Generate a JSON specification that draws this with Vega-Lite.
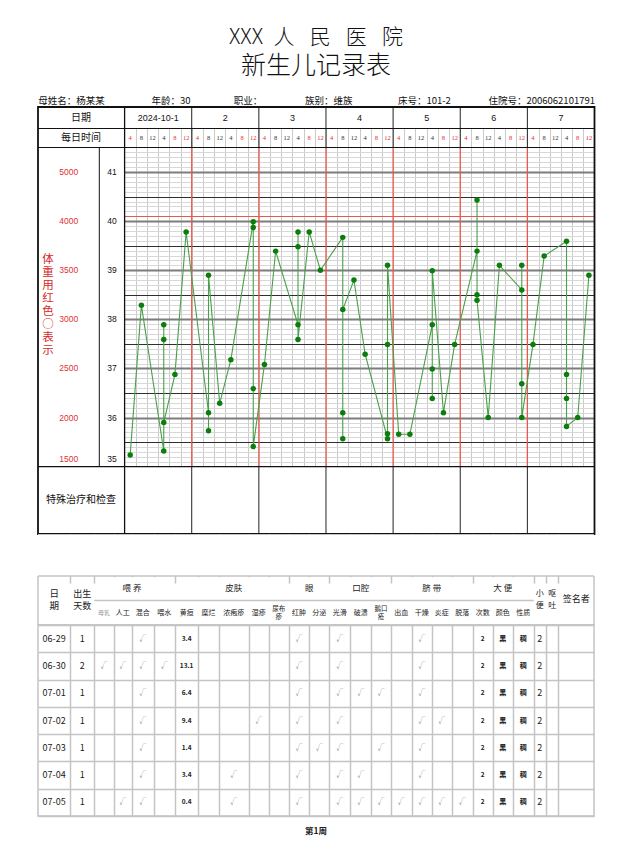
{
"$schema": "https://vega.github.io/schema/vega-lite/v6.json",
"background": "white",
"padding": {"left": 37, "top": 0, "right": 0, "bottom": 0},
"spacing": 0,
"bounds": "flush",
"config": {"view": {"stroke": null}, "text": {"font": "Noto Sans CJK SC"}, "axis": {"minExtent": 0}, "axisX": {"minExtent": 0}, "axisY": {"minExtent": 0}},
"datasets": {
"info": [{"i":0,"item":"母姓名：杨某某"},{"i":1,"item":"年龄：30"},{"i":2,"item":"职业："},{"i":3,"item":"族别：维族"},{"i":4,"item":"床号：101-2"},{"i":5,"item":"住院号：2006062101791"}],
"temps": [{"seq":1,"slot":0,"temp":35.24},{"seq":2,"slot":1,"temp":38.29},{"seq":3,"slot":3,"temp":35.32},{"seq":4,"slot":3,"temp":37.89},{"seq":5,"slot":3,"temp":37.59},{"seq":6,"slot":3,"temp":35.9},{"seq":7,"slot":4,"temp":36.88},{"seq":8,"slot":5,"temp":39.78},{"seq":9,"slot":7,"temp":36.1},{"seq":10,"slot":7,"temp":35.73},{"seq":11,"slot":7,"temp":38.9},{"seq":12,"slot":8,"temp":36.29},{"seq":13,"slot":9,"temp":37.18},{"seq":14,"slot":11,"temp":39.99},{"seq":15,"slot":11,"temp":39.87},{"seq":16,"slot":11,"temp":36.59},{"seq":17,"slot":11,"temp":35.41},{"seq":18,"slot":12,"temp":37.08},{"seq":19,"slot":13,"temp":39.39},{"seq":20,"slot":15,"temp":37.89},{"seq":21,"slot":15,"temp":39.78},{"seq":22,"slot":15,"temp":39.48},{"seq":23,"slot":15,"temp":37.59},{"seq":24,"slot":16,"temp":39.78},{"seq":25,"slot":17,"temp":39.0},{"seq":26,"slot":19,"temp":39.67},{"seq":27,"slot":19,"temp":36.1},{"seq":28,"slot":19,"temp":35.57},{"seq":29,"slot":19,"temp":38.2},{"seq":30,"slot":20,"temp":38.8},{"seq":31,"slot":21,"temp":37.29},{"seq":32,"slot":23,"temp":35.57},{"seq":33,"slot":23,"temp":35.67},{"seq":34,"slot":23,"temp":37.49},{"seq":35,"slot":23,"temp":39.1},{"seq":36,"slot":24,"temp":35.66},{"seq":37,"slot":25,"temp":35.66},{"seq":38,"slot":27,"temp":37.89},{"seq":39,"slot":27,"temp":36.99},{"seq":40,"slot":27,"temp":36.39},{"seq":41,"slot":27,"temp":38.99},{"seq":42,"slot":28,"temp":36.1},{"seq":43,"slot":29,"temp":37.49},{"seq":44,"slot":31,"temp":39.39},{"seq":45,"slot":31,"temp":40.43},{"seq":46,"slot":31,"temp":38.5},{"seq":47,"slot":31,"temp":38.39},{"seq":48,"slot":32,"temp":36.0},{"seq":49,"slot":33,"temp":39.1},{"seq":50,"slot":35,"temp":38.6},{"seq":51,"slot":35,"temp":39.1},{"seq":52,"slot":35,"temp":36.69},{"seq":53,"slot":35,"temp":36.0},{"seq":54,"slot":36,"temp":37.49},{"seq":55,"slot":37,"temp":39.29},{"seq":56,"slot":39,"temp":39.59},{"seq":57,"slot":39,"temp":36.88},{"seq":58,"slot":39,"temp":36.39},{"seq":59,"slot":39,"temp":35.82},{"seq":60,"slot":40,"temp":36.0},{"seq":61,"slot":41,"temp":38.9}],
"wscale": [{"t":41,"w":5000},{"t":40,"w":4000},{"t":39,"w":3500},{"t":38,"w":3000},{"t":37,"w":2500},{"t":36,"w":2000},{"t":35,"w":1500}],
"days": [{"day":"2024-10-1","first":0},{"day":"2","first":6},{"day":"3","first":12},{"day":"4","first":18},{"day":"5","first":24},{"day":"6","first":30},{"day":"7","first":36}],
"slots": [{"slot":0,"h":"4"},{"slot":1,"h":"8"},{"slot":2,"h":"12"},{"slot":3,"h":"4"},{"slot":4,"h":"8"},{"slot":5,"h":"12"},{"slot":6,"h":"4"},{"slot":7,"h":"8"},{"slot":8,"h":"12"},{"slot":9,"h":"4"},{"slot":10,"h":"8"},{"slot":11,"h":"12"},{"slot":12,"h":"4"},{"slot":13,"h":"8"},{"slot":14,"h":"12"},{"slot":15,"h":"4"},{"slot":16,"h":"8"},{"slot":17,"h":"12"},{"slot":18,"h":"4"},{"slot":19,"h":"8"},{"slot":20,"h":"12"},{"slot":21,"h":"4"},{"slot":22,"h":"8"},{"slot":23,"h":"12"},{"slot":24,"h":"4"},{"slot":25,"h":"8"},{"slot":26,"h":"12"},{"slot":27,"h":"4"},{"slot":28,"h":"8"},{"slot":29,"h":"12"},{"slot":30,"h":"4"},{"slot":31,"h":"8"},{"slot":32,"h":"12"},{"slot":33,"h":"4"},{"slot":34,"h":"8"},{"slot":35,"h":"12"},{"slot":36,"h":"4"},{"slot":37,"h":"8"},{"slot":38,"h":"12"},{"slot":39,"h":"4"},{"slot":40,"h":"8"},{"slot":41,"h":"12"}],
"cols": [{"k":"日期","lab":"日\n期","c":0,"g":""},{"k":"出生天数","lab":"出生\n天数","c":1,"g":""},{"k":"母乳","lab":"母乳","c":2,"g":"喂 养"},{"k":"人工","lab":"人工","c":3,"g":"喂 养"},{"k":"混合","lab":"混合","c":4,"g":"喂 养"},{"k":"喂水","lab":"喂水","c":5,"g":"喂 养"},{"k":"黄疸","lab":"黄疸","c":6,"g":"皮肤"},{"k":"糜烂","lab":"糜烂","c":7,"g":"皮肤"},{"k":"浓疱疹","lab":"浓疱疹","c":8,"g":"皮肤"},{"k":"湿疹","lab":"湿疹","c":9,"g":"皮肤"},{"k":"尿布疹","lab":"尿布\n疹","c":10,"g":"皮肤"},{"k":"红肿","lab":"红肿","c":11,"g":"眼"},{"k":"分泌","lab":"分泌","c":12,"g":"眼"},{"k":"光滑","lab":"光滑","c":13,"g":"口腔"},{"k":"破溃","lab":"破溃","c":14,"g":"口腔"},{"k":"鹅口疮","lab":"鹅口\n疮","c":15,"g":"口腔"},{"k":"出血","lab":"出血","c":16,"g":"脐 带"},{"k":"干燥","lab":"干燥","c":17,"g":"脐 带"},{"k":"炎症","lab":"炎症","c":18,"g":"脐 带"},{"k":"脱落","lab":"脱落","c":19,"g":"脐 带"},{"k":"次数","lab":"次数","c":20,"g":"大 便"},{"k":"颜色","lab":"颜色","c":21,"g":"大 便"},{"k":"性质","lab":"性质","c":22,"g":"大 便"},{"k":"小便","lab":"小\n便","c":23,"g":""},{"k":"呕吐","lab":"呕\n吐","c":24,"g":""},{"k":"签名者","lab":"签名者","c":25,"g":""}],
"records": [
{"日期":"06-29","出生天数":"1","混合":"√","黄疸":"3.4","红肿":"√","光滑":"√","干燥":"√","次数":"2","颜色":"黑","性质":"稠","小便":"2"},
{"日期":"06-30","出生天数":"2","母乳":"√","人工":"√","混合":"√","喂水":"√","黄疸":"13.1","红肿":"√","光滑":"√","干燥":"√","次数":"2","颜色":"黑","性质":"稠","小便":"2"},
{"日期":"07-01","出生天数":"1","混合":"√","黄疸":"6.4","红肿":"√","光滑":"√","破溃":"√","鹅口疮":"√","干燥":"√","次数":"2","颜色":"黑","性质":"稠","小便":"2"},
{"日期":"07-02","出生天数":"1","混合":"√","黄疸":"9.4","湿疹":"√","红肿":"√","光滑":"√","干燥":"√","炎症":"√","次数":"2","颜色":"黑","性质":"稠","小便":"2"},
{"日期":"07-03","出生天数":"1","混合":"√","黄疸":"1.4","红肿":"√","分泌":"√","光滑":"√","鹅口疮":"√","干燥":"√","次数":"2","颜色":"黑","性质":"稠","小便":"2"},
{"日期":"07-04","出生天数":"1","混合":"√","黄疸":"3.4","浓疱疹":"√","红肿":"√","光滑":"√","破溃":"√","干燥":"√","次数":"2","颜色":"黑","性质":"稠","小便":"2"},
{"日期":"07-05","出生天数":"1","人工":"√","混合":"√","黄疸":"0.4","浓疱疹":"√","红肿":"√","光滑":"√","破溃":"√","鹅口疮":"√","出血":"√","干燥":"√","炎症":"√","脱落":"√","次数":"2","颜色":"黑","性质":"稠","小便":"2"}
]
},
"vconcat": [
{
"width": 556, "height": 107,
"layer": [
{"data": {"values": [{}]}, "mark": {"type": "text", "fontSize": 21, "fontWeight": 300, "baseline": "middle", "color": "#111"},
 "encoding": {"text": {"value": "XXX\u2002人\u2002\u00a0民\u2002\u00a0医\u2002\u00a0院"},
  "y": {"datum": 1, "type": "quantitative", "scale": {"domain": [1, 2, 3], "range": [38.3, 65.5, 100.7], "zero": false, "nice": false}, "axis": null}}},
{"data": {"values": [{}]}, "mark": {"type": "text", "fontSize": 25, "fontWeight": 300, "baseline": "middle", "color": "#111"},
 "encoding": {"text": {"value": "新生儿记录表"}, "y": {"datum": 2, "type": "quantitative", "axis": null}}},
{"data": {"name": "info"}, "transform": [{"filter": "datum.i < 5"}], "mark": {"type": "text", "align": "left", "baseline": "middle", "fontSize": 9.5, "color": "#111"},
 "encoding": {"text": {"field": "item"},
  "x": {"field": "i", "type": "quantitative", "scale": {"domain": [0, 1, 2, 3, 4, 5], "range": [0.3, 113.6, 195.8, 267, 360, 557], "zero": false, "nice": false}, "axis": null},
  "y": {"datum": 3, "type": "quantitative", "axis": null}}},
{"data": {"name": "info"}, "transform": [{"filter": "datum.i == 5"}], "mark": {"type": "text", "align": "right", "baseline": "middle", "fontSize": 9.5, "color": "#111"},
 "encoding": {"text": {"field": "item"},
  "x": {"field": "i", "type": "quantitative", "axis": null},
  "y": {"datum": 3, "type": "quantitative", "axis": null}}}
]
},
{
"width": 556, "height": 427,
"layer": [
{"data": {"values": [{}]}, "mark": {"type": "rect", "fill": "white"},
 "encoding": {
  "x": {"datum": -3.5, "type": "quantitative", "title": null, "scale": {"domain": [-3.5, -1.5, -0.5, 41.5], "range": [0, 61.3, 86.6, 556.5], "zero": false, "nice": false},
   "axis": {"values": [0.5,1.5,2.5,3.5,4.5,5.5,6.5,7.5,8.5,9.5,10.5,11.5,12.5,13.5,14.5,15.5,16.5,17.5,18.5,19.5,20.5,21.5,22.5,23.5,24.5,25.5,26.5,27.5,28.5,29.5,30.5,31.5,32.5,33.5,34.5,35.5,36.5,37.5,38.5,39.5,40.5], "tickCount": 200, "minExtent": 0, "grid": true, "gridColor": "#cbcbcb", "gridWidth": 1, "labels": false, "ticks": false, "domain": false, "title": null}},
  "x2": {"datum": -0.5},
  "y": {"datum": 35, "type": "quantitative", "title": null, "scale": {"domain": [34, 35, 41.5, 42, 42.5], "range": [427, 359.7, 40.5, 21.5, 0], "zero": false, "nice": false},
   "axis": {"values": [35.1,35.2,35.3,35.4,35.5,35.6,35.7,35.8,35.9,36,36.1,36.2,36.3,36.4,36.5,36.6,36.7,36.8,36.9,37,37.1,37.2,37.3,37.4,37.5,37.6,37.7,37.8,37.9,38,38.1,38.2,38.3,38.4,38.5,38.6,38.7,38.8,38.9,39,39.1,39.2,39.3,39.4,39.5,39.6,39.7,39.8,39.9,40,40.1,40.2,40.3,40.4,40.5,40.6,40.7,40.8,40.9,41,41.1,41.2,41.3,41.4],
    "tickCount": 200, "minExtent": 0, "grid": true,
    "gridColor": {"condition": [{"test": "abs(datum.value - 40.1) < 0.001", "value": "#e8584f"}, {"test": "abs(datum.value - round(datum.value)) < 0.01", "value": "#7d7d7d"}, {"test": "abs(datum.value - round(datum.value)) > 0.49", "value": "#2e2e2e"}], "value": "#d8d8d8"},
    "gridWidth": {"condition": [{"test": "abs(datum.value - 40.1) < 0.001", "value": 1.2}, {"test": "abs(datum.value - round(datum.value)) < 0.01", "value": 2}, {"test": "abs(datum.value - round(datum.value)) > 0.49", "value": 1.2}], "value": 1},
    "labels": false, "ticks": false, "domain": false, "title": null}},
  "y2": {"datum": 41.5}}},
{"data": {"values": [{}]}, "mark": {"type": "rect", "fill": "white"},
 "encoding": {"x": {"datum": -0.5, "type": "quantitative", "title": null}, "x2": {"datum": 41.5}, "y": {"datum": 42, "type": "quantitative", "title": null}, "y2": {"datum": 42.5}}},
{"data": {"values": [{}]}, "mark": {"type": "rect", "fill": "white"},
 "encoding": {"x": {"datum": -0.5, "type": "quantitative", "title": null}, "x2": {"datum": 41.5}, "y": {"datum": 34, "type": "quantitative", "title": null}, "y2": {"datum": 35}}},
{"data": {"name": "days"}, "transform": [{"filter": "datum.first > 0"}], "mark": {"type": "rule", "color": "#e8584f", "strokeWidth": 1.3, "xOffset": -5.6},
 "encoding": {"x": {"field": "first", "type": "quantitative", "title": null}, "y": {"datum": 35, "type": "quantitative", "title": null}, "y2": {"datum": 41.5}}},
{"data": {"name": "days"}, "transform": [{"filter": "datum.first > 0"}], "mark": {"type": "rule", "color": "#222", "strokeWidth": 1, "xOffset": -5.6},
 "encoding": {"x": {"field": "first", "type": "quantitative", "title": null}, "y": {"datum": 41.5, "type": "quantitative", "title": null}, "y2": {"datum": 42.5}}},
{"data": {"name": "days"}, "transform": [{"filter": "datum.first > 0"}], "mark": {"type": "rule", "color": "#222", "strokeWidth": 1, "xOffset": -5.6},
 "encoding": {"x": {"field": "first", "type": "quantitative", "title": null}, "y": {"datum": 34, "type": "quantitative", "title": null}, "y2": {"datum": 35}}},
{"data": {"values": [{}]}, "mark": {"type": "rule", "color": "#111", "strokeWidth": 1},
 "encoding": {"x": {"datum": -3.5, "type": "quantitative", "title": null}, "x2": {"datum": 41.5}, "y": {"datum": 42, "type": "quantitative", "title": null}}},
{"data": {"values": [{}]}, "mark": {"type": "rule", "color": "#111", "strokeWidth": 1},
 "encoding": {"x": {"datum": -3.5, "type": "quantitative", "title": null}, "x2": {"datum": 41.5}, "y": {"datum": 41.5, "type": "quantitative", "title": null}}},
{"data": {"values": [{}]}, "mark": {"type": "rule", "color": "#111", "strokeWidth": 1.3},
 "encoding": {"x": {"datum": -3.5, "type": "quantitative", "title": null}, "x2": {"datum": 41.5}, "y": {"datum": 35, "type": "quantitative", "title": null}}},
{"data": {"values": [{}]}, "mark": {"type": "rule", "color": "#111", "strokeWidth": 1.3},
 "encoding": {"x": {"datum": -0.5, "type": "quantitative", "title": null}, "y": {"datum": 34, "type": "quantitative", "title": null}, "y2": {"datum": 42.5}}},
{"data": {"values": [{}]}, "mark": {"type": "rule", "color": "#111", "strokeWidth": 1},
 "encoding": {"x": {"datum": -1.5, "type": "quantitative", "title": null}, "y": {"datum": 35, "type": "quantitative", "title": null}, "y2": {"datum": 41.5}}},
{"data": {"values": [{}]}, "mark": {"type": "rect", "fillOpacity": 0, "stroke": "#111", "strokeWidth": 1.8},
 "encoding": {"x": {"datum": -3.5, "type": "quantitative", "title": null}, "x2": {"datum": 41.5}, "y": {"datum": 34, "type": "quantitative", "title": null}, "y2": {"datum": 42.5}}},
{"data": {"name": "temps"}, "mark": {"type": "line", "color": "#4a9f4a", "strokeWidth": 1.1},
 "encoding": {"x": {"field": "slot", "type": "quantitative", "title": null}, "y": {"field": "temp", "type": "quantitative", "title": null}, "order": {"field": "seq"}}},
{"data": {"name": "temps"}, "mark": {"type": "point", "filled": true, "size": 30, "color": "#0b7d0b", "opacity": 1},
 "encoding": {"x": {"field": "slot", "type": "quantitative", "title": null}, "y": {"field": "temp", "type": "quantitative", "title": null}}},
{"data": {"name": "wscale"}, "transform": [{"filter": "datum.t > 35"}], "mark": {"type": "text", "font": "Liberation Sans", "fontSize": 8.5, "color": "#111", "baseline": "middle"},
 "encoding": {"x": {"datum": -1, "type": "quantitative", "title": null}, "y": {"field": "t", "type": "quantitative", "title": null}, "text": {"field": "t"}}},
{"data": {"name": "wscale"}, "transform": [{"filter": "datum.t == 35"}], "mark": {"type": "text", "font": "Liberation Sans", "fontSize": 8.5, "color": "#111", "baseline": "middle", "dy": -7.5},
 "encoding": {"x": {"datum": -1, "type": "quantitative", "title": null}, "y": {"field": "t", "type": "quantitative", "title": null}, "text": {"field": "t"}}},
{"data": {"name": "wscale"}, "transform": [{"filter": "datum.t > 35"}], "mark": {"type": "text", "font": "Liberation Sans", "fontSize": 8.5, "color": "#e03131", "baseline": "middle"},
 "encoding": {"x": {"datum": -2.5, "type": "quantitative", "title": null}, "y": {"field": "t", "type": "quantitative", "title": null}, "text": {"field": "w"}}},
{"data": {"name": "wscale"}, "transform": [{"filter": "datum.t == 35"}], "mark": {"type": "text", "font": "Liberation Sans", "fontSize": 8.5, "color": "#e03131", "baseline": "middle", "dy": -7.5},
 "encoding": {"x": {"datum": -2.5, "type": "quantitative", "title": null}, "y": {"field": "t", "type": "quantitative", "title": null}, "text": {"field": "w"}}},
{"data": {"values": [{}]}, "mark": {"type": "text", "fontSize": 11.5, "lineHeight": 13, "color": "#d42a2a", "baseline": "middle"},
 "encoding": {"x": {"datum": -3.17, "type": "quantitative", "title": null}, "y": {"datum": 39.2, "type": "quantitative", "title": null}, "text": {"value": ["体","重","用","红","色","○","表","示"]}}},
{"data": {"values": [{}]}, "mark": {"type": "text", "fontSize": 10, "color": "#111", "baseline": "middle"},
 "encoding": {"x": {"datum": -2.1, "type": "quantitative", "title": null}, "y": {"datum": 42.25, "type": "quantitative", "title": null}, "text": {"value": "日期"}}},
{"data": {"values": [{}]}, "mark": {"type": "text", "fontSize": 10, "color": "#111", "baseline": "middle"},
 "encoding": {"x": {"datum": -2.1, "type": "quantitative", "title": null}, "y": {"datum": 41.75, "type": "quantitative", "title": null}, "text": {"value": "每日时间"}}},
{"data": {"values": [{}]}, "mark": {"type": "text", "fontSize": 10, "color": "#111", "baseline": "middle"},
 "encoding": {"x": {"datum": -2.1, "type": "quantitative", "title": null}, "y": {"datum": 34.5, "type": "quantitative", "title": null}, "text": {"value": "特殊治疗和检查"}}},
{"data": {"name": "days"}, "mark": {"type": "text", "fontSize": 9, "color": "#111", "baseline": "middle", "font": "Liberation Sans", "xOffset": 27.97},
 "encoding": {"x": {"field": "first", "type": "quantitative", "title": null}, "y": {"datum": 42.25, "type": "quantitative", "title": null}, "text": {"field": "day"}}},
{"data": {"name": "slots"}, "mark": {"type": "text", "fontSize": 6.5, "baseline": "middle", "font": "Liberation Serif"},
 "encoding": {"x": {"field": "slot", "type": "quantitative", "title": null}, "y": {"datum": 41.75, "type": "quantitative", "title": null}, "text": {"field": "h"},
  "color": {"condition": {"test": "datum.slot % 6 == 0 || datum.slot % 6 >= 4", "value": "#e03131"}, "value": "#333"}}}
]
},
{
"width": 556, "height": 91,
"data": {"name": "cols"},
"layer": [
{"data": {"values": [{}]}, "mark": {"type": "rect", "fill": "white"},
 "encoding": {
  "x": {"datum": -0.5, "type": "quantitative", "title": null, "scale": {"domain": [-0.5,0,0.5,1,1.5,2,2.5,3,3.5,4,4.5,5,5.5,6,6.5,7,7.5,8,8.5,9,9.5,10,10.5,11,11.5,12,12.5,13,13.5,14,14.5,15,15.5,16,16.5,17,17.5,18,18.5,19,19.5,20,20.5,21,21.5,22,22.5,23,23.5,24,24.5,25,25.5], "range": [0,16.15,32.3,44.3,56.3,66,75.7,84.85,94,104.85,115.7,126.35,137,148.65,160.3,170.5,180.7,195.7,210.7,220.7,230.7,240.7,250.7,261,271.3,281.3,291.3,301.8,312.3,322.65,333,343,353,363.35,373.7,383.7,393.7,403.7,413.7,424.2,434.7,444.7,454.7,464.7,474.7,485.2,495.7,501.85,508,514.15,520.3,538.15,556], "zero": false, "nice": false},
   "axis": {"values": [0.5,1.5,2.5,3.5,4.5,5.5,6.5,7.5,8.5,9.5,10.5,11.5,12.5,13.5,14.5,15.5,16.5,17.5,18.5,19.5,20.5,21.5,22.5,23.5,24.5], "tickCount": 200, "minExtent": 0, "grid": true, "gridColor": "#c4c4c4", "gridWidth": 1.5, "labels": false, "ticks": false, "domain": false, "title": null}},
  "x2": {"datum": 25.5},
  "y": {"datum": -3.2, "type": "quantitative", "title": null, "scale": {"domain": [-1.5, 0.5], "range": [42, 91], "zero": false, "nice": false}, "axis": null},
  "y2": {"datum": -1.5}}},
{"transform": [{"filter": "datum.g != ''"}], "mark": {"type": "rect", "fill": "white"},
 "encoding": {"x": {"aggregate": "min", "field": "c", "type": "quantitative", "title": null}, "x2": {"aggregate": "max", "field": "c"}, "detail": {"field": "g", "type": "nominal"},
  "y": {"datum": -1.45, "type": "quantitative", "title": null}, "y2": {"datum": -0.55}}},
{"data": {"values": [{}]}, "mark": {"type": "rule", "color": "#c4c4c4", "strokeWidth": 1.5},
 "encoding": {"x": {"datum": -0.5, "type": "quantitative", "title": null}, "x2": {"datum": 25.5}, "y": {"datum": -1.5, "type": "quantitative", "title": null}}},
{"data": {"values": [{}]}, "mark": {"type": "rule", "color": "#c4c4c4", "strokeWidth": 1.5},
 "encoding": {"x": {"datum": -0.5, "type": "quantitative", "title": null}, "x2": {"datum": 25.5}, "y": {"datum": 0.5, "type": "quantitative", "title": null}}},
{"data": {"values": [{}]}, "mark": {"type": "rule", "color": "#c4c4c4", "strokeWidth": 1.5},
 "encoding": {"x": {"datum": 1.5, "type": "quantitative", "title": null}, "x2": {"datum": 22.5}, "y": {"datum": -0.5, "type": "quantitative", "title": null}}},
{"data": {"values": [{}]}, "mark": {"type": "rule", "color": "#c4c4c4", "strokeWidth": 1.5},
 "encoding": {"x": {"datum": -0.5, "type": "quantitative", "title": null}, "y": {"datum": -1.5, "type": "quantitative", "title": null}, "y2": {"datum": 0.5}}},
{"data": {"values": [{}]}, "mark": {"type": "rule", "color": "#c4c4c4", "strokeWidth": 1.5},
 "encoding": {"x": {"datum": 25.5, "type": "quantitative", "title": null}, "y": {"datum": -1.5, "type": "quantitative", "title": null}, "y2": {"datum": 0.5}}},
{"transform": [{"filter": "datum.g == '' && datum.k != '签名者'"}], "mark": {"type": "text", "baseline": "middle", "lineBreak": "\n", "lineHeight": 12, "dy": -6.5, "color": "#222"},
 "encoding": {"x": {"field": "c", "type": "quantitative", "title": null}, "y": {"datum": -0.5, "type": "quantitative", "title": null}, "text": {"field": "lab"},
  "size": {"condition": [{"test": "datum.k == '日期'", "value": 9.5}, {"test": "datum.k == '小便' || datum.k == '呕吐'", "value": 8}], "value": 9}}},
{"transform": [{"filter": "datum.k == '签名者'"}], "mark": {"type": "text", "baseline": "middle", "fontSize": 9, "dy": -1.5, "color": "#222"},
 "encoding": {"x": {"field": "c", "type": "quantitative", "title": null}, "y": {"datum": -0.5, "type": "quantitative", "title": null}, "text": {"field": "lab"}}},
{"transform": [{"filter": "datum.g != '' && datum.k != '尿布疹' && datum.k != '鹅口疮'"}], "mark": {"type": "text", "baseline": "middle"},
 "encoding": {"x": {"field": "c", "type": "quantitative", "title": null}, "y": {"datum": 0, "type": "quantitative", "title": null}, "text": {"field": "lab"},
  "size": {"condition": {"test": "datum.k == '母乳'", "value": 6}, "value": 7},
  "color": {"condition": {"test": "datum.k == '母乳'", "value": "#9a9a9a"}, "value": "#222"}}},
{"transform": [{"filter": "datum.k == '尿布疹' || datum.k == '鹅口疮'"}], "mark": {"type": "text", "baseline": "middle", "lineBreak": "\n", "lineHeight": 8.5, "dy": -4.25, "fontSize": 6.5, "color": "#222"},
 "encoding": {"x": {"field": "c", "type": "quantitative", "title": null}, "y": {"datum": 0, "type": "quantitative", "title": null}, "text": {"field": "lab"}}},
{"transform": [{"filter": "datum.g != ''"}], "mark": {"type": "text", "baseline": "middle", "fontSize": 8.5, "color": "#222"},
 "encoding": {"x": {"aggregate": "mean", "field": "c", "type": "quantitative", "title": null}, "y": {"datum": -1, "type": "quantitative", "title": null}, "text": {"field": "g", "type": "nominal"}}}
]
},
{
"width": 556, "height": 191,
"view": {"stroke": "#c4c4c4", "strokeWidth": 1.5},
"data": {"name": "records"},
"transform": [
 {"fold": ["日期","出生天数","母乳","人工","混合","喂水","黄疸","糜烂","浓疱疹","湿疹","尿布疹","红肿","分泌","光滑","破溃","鹅口疮","出血","干燥","炎症","脱落","次数","颜色","性质","小便","呕吐","签名者"], "as": ["k", "v"]},
 {"filter": "isValid(datum.v) && datum.v != ''"},
 {"lookup": "k", "from": {"data": {"name": "cols"}, "key": "k", "fields": ["c"]}}
],
"layer": [
{"transform": [{"filter": "datum.k == '日期' || datum.k == '出生天数' || datum.k == '小便' || datum.v == '√'"}],
 "mark": {"type": "text", "baseline": "middle"},
 "encoding": {
  "x": {"field": "c", "type": "quantitative", "title": null, "scale": {"domain": [-0.5,0,0.5,1,1.5,2,2.5,3,3.5,4,4.5,5,5.5,6,6.5,7,7.5,8,8.5,9,9.5,10,10.5,11,11.5,12,12.5,13,13.5,14,14.5,15,15.5,16,16.5,17,17.5,18,18.5,19,19.5,20,20.5,21,21.5,22,22.5,23,23.5,24,24.5,25,25.5], "range": [0,16.15,32.3,44.3,56.3,66,75.7,84.85,94,104.85,115.7,126.35,137,148.65,160.3,170.5,180.7,195.7,210.7,220.7,230.7,240.7,250.7,261,271.3,281.3,291.3,301.8,312.3,322.65,333,343,353,363.35,373.7,383.7,393.7,403.7,413.7,424.2,434.7,444.7,454.7,464.7,474.7,485.2,495.7,501.85,508,514.15,520.3,538.15,556], "zero": false, "nice": false},
   "axis": {"values": [0.5,1.5,2.5,3.5,4.5,5.5,6.5,7.5,8.5,9.5,10.5,11.5,12.5,13.5,14.5,15.5,16.5,17.5,18.5,19.5,20.5,21.5,22.5,23.5,24.5], "tickCount": 200, "minExtent": 0, "grid": true, "gridColor": "#c4c4c4", "gridWidth": 1.5, "labels": false, "ticks": false, "domain": false, "title": null}},
  "y": {"field": "日期", "type": "nominal", "sort": null, "title": null, "scale": {"type": "band", "paddingInner": 0, "paddingOuter": 0},
   "axis": {"grid": true, "tickBand": "extent", "minExtent": 0, "gridColor": "#c4c4c4", "gridWidth": 1.5, "labels": false, "ticks": false, "domain": false, "title": null}},
  "text": {"field": "v"},
  "size": {"condition": {"test": "datum.v == '√'", "value": 7}, "value": 9},
  "color": {"condition": {"test": "datum.v == '√'", "value": "#808080"}, "value": "#1a1a1a"}}},
{"transform": [{"filter": "datum.k == '黄疸' || datum.k == '次数' || datum.k == '颜色' || datum.k == '性质'"}],
 "mark": {"type": "text", "baseline": "middle", "fontWeight": "bold", "color": "#222"},
 "encoding": {
  "x": {"field": "c", "type": "quantitative", "title": null},
  "y": {"field": "日期", "type": "nominal", "sort": null, "title": null},
  "text": {"field": "v"},
  "size": {"condition": {"test": "datum.k == '颜色' || datum.k == '性质'", "value": 7}, "value": 6.5}}}
]
},
{
"width": 556, "height": 30,
"data": {"values": [{"p": "第1周"}]},
"mark": {"type": "text", "fontSize": 8.5, "fontWeight": "bold", "baseline": "middle", "color": "#222"},
"encoding": {"text": {"field": "p"}}
}
]
}
